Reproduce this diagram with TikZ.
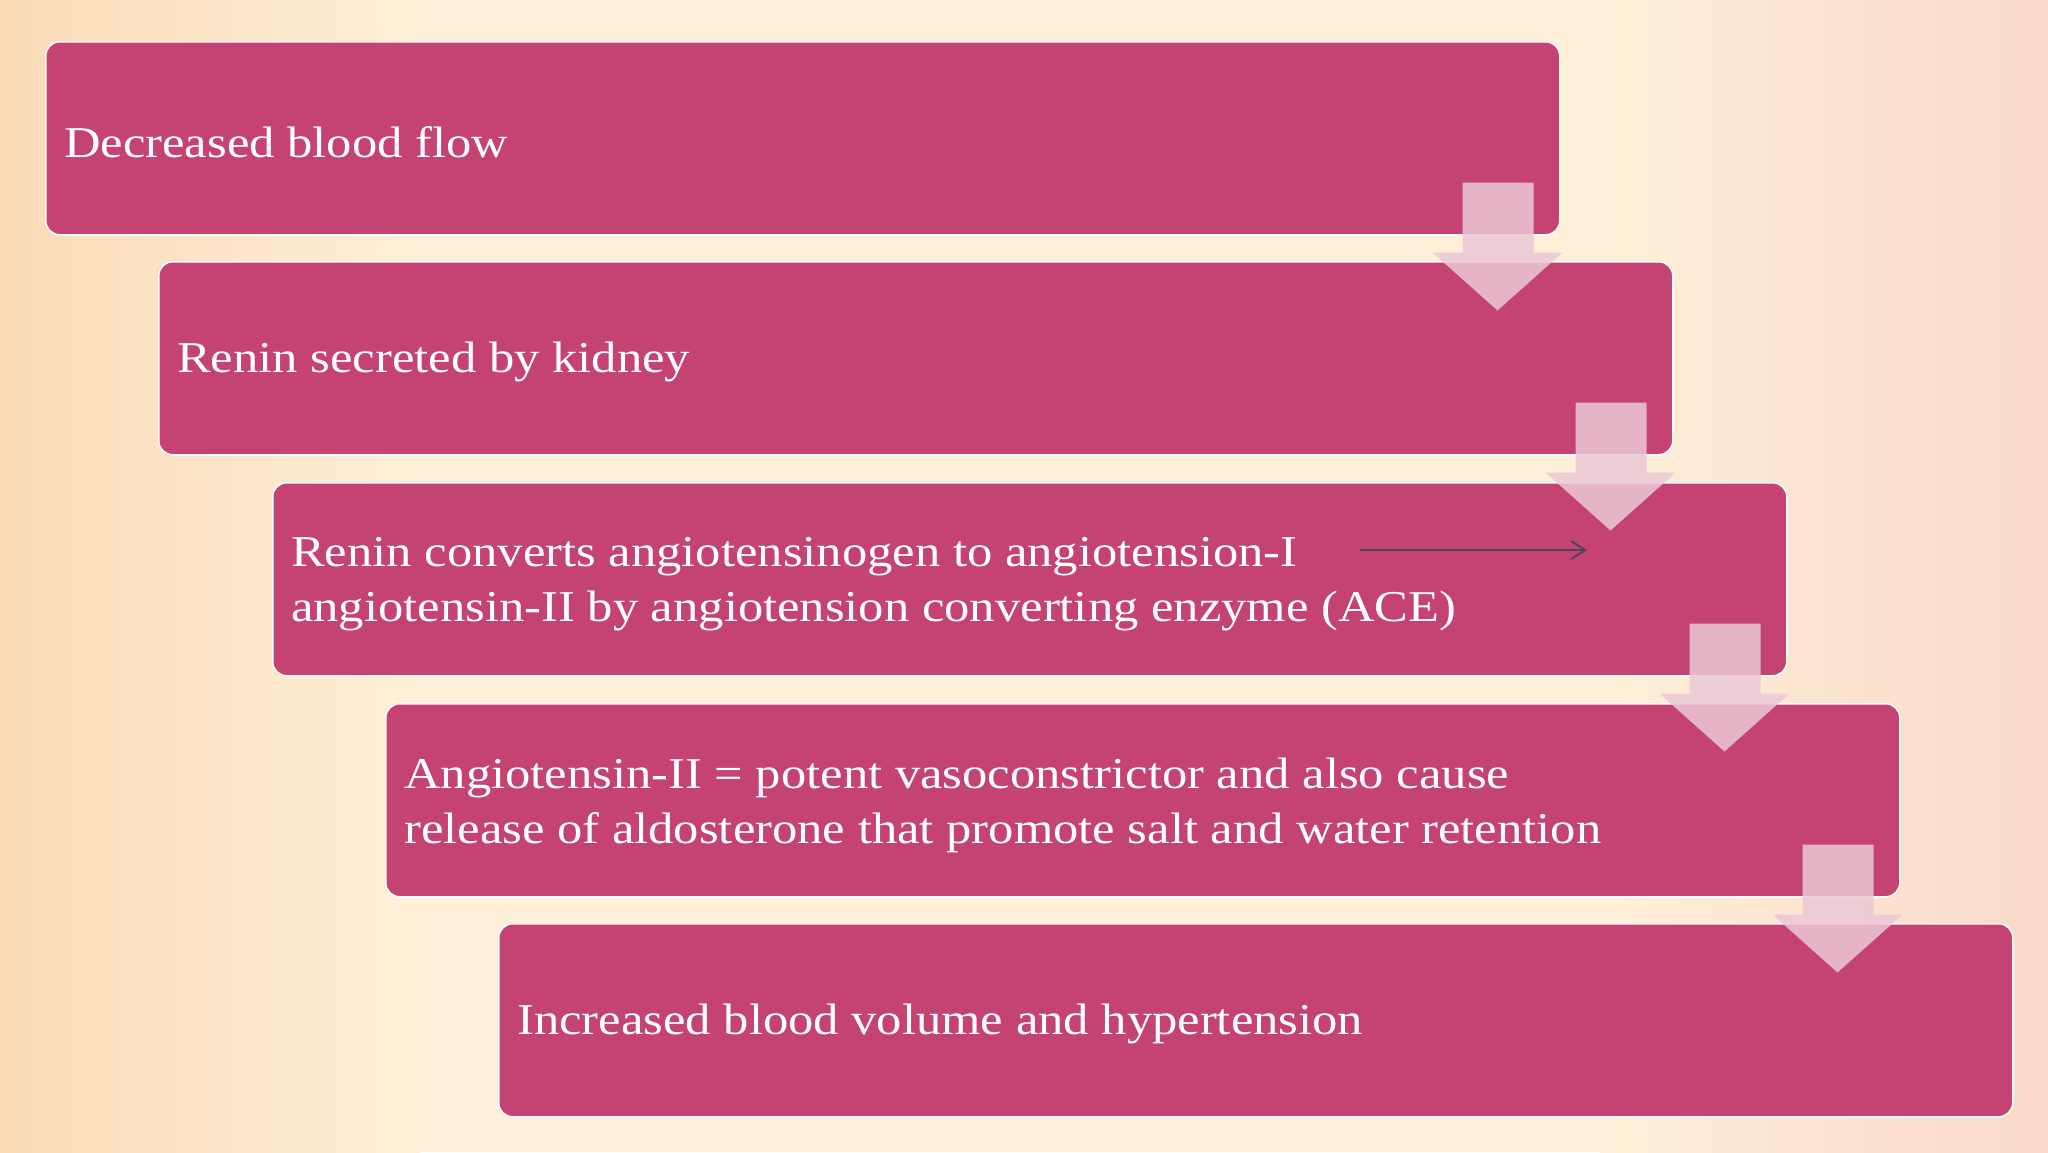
\documentclass[tikz,border=0pt]{standalone}
\usepackage{fontspec}
\setmainfont[FakeStretch=1.15]{Liberation Serif}
\usetikzlibrary{calc,arrows.meta}
\definecolor{boxpink}{HTML}{C44372}
\definecolor{arrowpink}{HTML}{EBC8D6}
\definecolor{bgleft}{HTML}{FBDAB5}
\definecolor{bgmid}{HTML}{FEF0D8}
\definecolor{bgright}{HTML}{F9D9C9}
\definecolor{darkline}{HTML}{4B4558}
\begin{document}
\begin{tikzpicture}[x=1pt,y=-1pt,
  stepbox/.style={draw=white, line width=1.5pt, fill=boxpink, rounded corners=14pt,
    minimum width=1514pt, minimum height=193pt, anchor=north west, inner sep=0pt},
  boxtext/.style={text=white, font=\fontsize{44}{55}\selectfont, align=left, anchor=west, inner sep=0pt},
  blockarrow/.style={fill=arrowpink, fill opacity=0.85},
  thinarrow/.style={draw=darkline, line width=2pt, -{Straight Barb[length=14pt,width=18pt]}}
]
\useasboundingbox (0,0) rectangle (2048,1152);
\fill[bgmid] (0,0) rectangle (2048,1152);
\shade[left color=bgleft, right color=bgmid] (0,0) rectangle (420,1152);
\shade[left color=bgmid, right color=bgright] (1600,0) rectangle (2048,1152);

\node[stepbox] (b1) at (45,41) {};
\node[stepbox] (b2) at (158,261) {};
\node[stepbox] (b3) at (272,482) {};
\node[stepbox] (b4) at (385,703) {};
\node[stepbox] (b5) at (498,923) {};

\node[boxtext] (t1) at ($(b1.west)+(19,4)$) {Decreased blood flow};
\node[boxtext] (t2) at ($(b2.west)+(19,4)$) {Renin secreted by kidney};
\node[boxtext] (t3) at ($(b3.west)+(19,5)$) {Renin converts angiotensinogen to angiotension-I\\angiotensin-II by angiotension converting enzyme (ACE)};
\node[boxtext] (t4) at ($(b4.west)+(19,5)$) {Angiotensin-II = potent vasoconstrictor and also cause\\release of aldosterone that promote salt and water retention};
\node[boxtext] (t5) at ($(b5.west)+(19,4)$) {Increased blood volume and hypertension};

\foreach \i in {1,2,3,4}{
  \fill[blockarrow] ($(b\i.south east)+(-98,-53)$) -- ($(b\i.south east)+(-27,-53)$)
    -- ($(b\i.south east)+(-27,17)$) -- ($(b\i.south east)+(2,17)$)
    -- ($(b\i.south east)+(-63,75)$) -- ($(b\i.south east)+(-128,17)$)
    -- ($(b\i.south east)+(-98,17)$) -- cycle;
}

\coordinate (s1) at (1360,550);
\coordinate (s2) at (1587,550);
\draw[thinarrow] (s1) -- (s2);
\end{tikzpicture}
\end{document}
